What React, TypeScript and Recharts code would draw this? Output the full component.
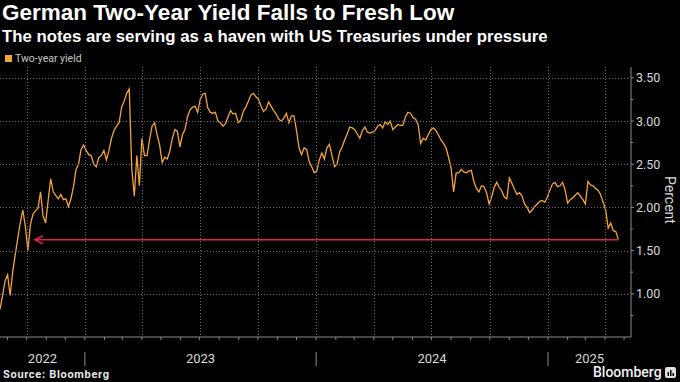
import { LineChart, Line, XAxis, YAxis, ReferenceLine } from 'recharts';

const DAY = 86400000;
const START_DATE = Date.UTC(2022, 7, 20);
const STEP_DAYS = 4;
const DOMAIN_START = Date.UTC(2022, 7, 20);
const DOMAIN_END = Date.UTC(2025, 4, 12);

// German two-year yield, one reading every 4 days from 20 Aug 2022
const yields = [
  0.82, 0.98, 1.15, 1.22, 0.98, 1.25, 1.45, 1.64, 1.82, 1.97,
  1.78, 1.5, 1.8, 1.92, 1.96, 1.99, 2.18, 1.9, 1.82, 2.08,
  2.33, 2.18, 2.14, 2.1, 2.15, 2.09, 2.1, 2.01, 2.1, 2.24,
  2.44, 2.5, 2.67, 2.72, 2.66, 2.61, 2.6, 2.5, 2.47, 2.58,
  2.6, 2.66, 2.55, 2.66, 2.8, 2.89, 2.94, 2.98, 3.16, 3.23,
  3.32, 3.37, 2.45, 2.13, 2.6, 2.25, 2.8, 2.6, 2.6, 2.78,
  2.94, 2.98, 2.84, 2.72, 2.52, 2.58, 2.56, 2.65, 2.8, 2.9,
  2.88, 2.7, 2.84, 2.9, 3.05, 3.13, 3.16, 3.17, 3.1, 3.25,
  3.31, 3.32, 3.15, 3.1, 3.09, 3.1, 3.0, 2.98, 2.94, 2.97,
  3.05, 3.12, 3.08, 3.09, 2.98, 3.01, 3.11, 3.16, 3.23, 3.3,
  3.32, 3.28, 3.25, 3.17, 3.11, 3.14, 3.22, 3.17, 3.12, 3.08,
  3.02, 3.0, 3.03, 3.09, 2.98, 3.06, 3.06, 2.89, 2.69, 2.61,
  2.69, 2.67, 2.53, 2.47, 2.4, 2.42, 2.55, 2.63, 2.56, 2.69,
  2.73, 2.6, 2.47, 2.5, 2.64, 2.7, 2.78, 2.85, 2.93, 2.92,
  2.9, 2.85, 2.8, 2.89, 2.93, 2.87, 2.86, 2.87, 2.89, 2.94,
  2.96, 2.92, 2.99, 2.96, 3.0, 2.9, 2.93, 2.96, 2.95, 2.95,
  3.05, 3.1, 3.09, 3.04, 3.02, 2.96, 2.74, 2.8, 2.78, 2.84,
  2.9, 2.92, 2.89, 2.84, 2.78, 2.74, 2.69, 2.58, 2.46, 2.18,
  2.4, 2.4, 2.44, 2.41, 2.4, 2.42, 2.43, 2.3, 2.22, 2.18,
  2.25, 2.24, 2.17, 2.04, 2.12, 2.23, 2.29, 2.23, 2.19, 2.12,
  2.1, 2.34, 2.28, 2.21, 2.15, 2.17, 2.13, 2.04, 2.0, 1.94,
  1.97, 2.01, 2.04, 2.07, 2.08, 2.06, 2.12, 2.2, 2.27, 2.29,
  2.24, 2.25, 2.29, 2.2, 2.05, 2.09, 2.11, 2.14, 2.17, 2.13,
  2.09, 2.04, 2.3, 2.26, 2.25, 2.22, 2.2, 2.15, 2.06, 1.97,
  1.76, 1.82, 1.73, 1.72, 1.63,
];

const YEARS = [2022, 2023, 2024, 2025];
const Y_TICKS = [0.75, 1, 1.25, 1.5, 1.75, 2, 2.25, 2.5, 2.75, 3, 3.25, 3.5];

// red "fresh low" marker
const LOW_LEVEL = 1.626;
const ARROW_FROM = Date.UTC(2022, 9, 14);
const ARROW_TO = Date.UTC(2025, 3, 22);

const W = 680;
const H = 382;
const TOP = 67;
const AXIS_W = 49;
const AXIS_H = 45;
const PLOT_W = W - AXIS_W;
const PLOT_H = H - TOP - AXIS_H;

const COLORS = {
  line: '#f2a33a',
  red: '#dc2346',
  grid: '#6a6a6a',
  axis: '#8c8c8c',
  text: '#d9d9d9',
};

const data = yields.map((v, i) => ({ t: START_DATE + i * STEP_DAYS * DAY, v }));

const monthTicks: number[] = [];
for (let y = 2022, m = 8; Date.UTC(y, m, 1) <= DOMAIN_END; ) {
  monthTicks.push(Date.UTC(y, m, 1));
  m++;
  if (m > 11) {
    m = 0;
    y++;
  }
}

const yearMids = YEARS.map((y) => {
  const lo = Math.max(DOMAIN_START, Date.UTC(y, 0, 1));
  const hi = Math.min(DOMAIN_END, Date.UTC(y + 1, 0, 1));
  return Math.round((lo + hi) / 2);
});
const xTicks = [...monthTicks, ...yearMids].sort((a, b) => a - b);

function XTick({ x, y, payload }: any) {
  const v = payload.value;
  const idx = yearMids.indexOf(v);
  if (idx >= 0) {
    return (
      <text x={x} y={y + 26} textAnchor="middle" fill={COLORS.text} fontSize={13} fontFamily="Roboto">
        {YEARS[idx]}
      </text>
    );
  }
  const month = new Date(v).getUTCMonth();
  const gx = Math.round(x) + 0.5;
  return (
    <g>
      {month % 3 === 0 && (
        <line x1={gx} y1={y - PLOT_H} x2={gx} y2={y - 1} stroke={COLORS.grid} strokeDasharray="1 2" />
      )}
      <line x1={x} y1={y} x2={x} y2={y + 3} stroke={COLORS.axis} />
      {month === 0 && <line x1={x} y1={y + 15} x2={x} y2={y + 29} stroke={COLORS.axis} />}
    </g>
  );
}

function YTick({ x, y, payload }: any) {
  const v = payload.value;
  const major = Math.abs(v * 2 - Math.round(v * 2)) < 1e-6;
  const gy = Math.round(y) + 0.5;
  return (
    <g>
      {major && (
        <line x1={x - PLOT_W} y1={gy} x2={x - 1} y2={gy} stroke={COLORS.grid} strokeDasharray="1 2" />
      )}
      <line x1={x} y1={y} x2={x + (major ? 3 : 2)} y2={y} stroke={COLORS.axis} />
      {major && (
        <text x={x + 5} y={y} dy="0.36em" fill={COLORS.text} fontSize={12.5} fontFamily="Roboto">
          {v.toFixed(2)}
        </text>
      )}
    </g>
  );
}

function Arrow(props: any) {
  const { x1, y1, x2, y2 } = props;
  const left = Math.min(x1, x2);
  const right = Math.max(x1, x2);
  const y = (y1 + y2) / 2;
  return (
    <g>
      <line x1={left} y1={y} x2={right} y2={y} stroke={COLORS.red} strokeWidth={1.5} />
      <polyline
        points={`${left + 8},${y - 4} ${left},${y} ${left + 8},${y + 4}`}
        fill="none"
        stroke={COLORS.red}
        strokeWidth={1.5}
      />
    </g>
  );
}

export default function App() {
  return (
    <div style={{ position: 'relative', width: W, height: H, background: '#000', overflow: 'hidden' }}>
      <style>{'body{margin:0;background:#000}'}</style>
      <div
        style={{
          position: 'absolute',
          left: 2,
          top: 0,
          color: '#fff',
          fontFamily: '"Liberation Sans"',
          fontWeight: 700,
          fontSize: 22.5,
          lineHeight: '25px',
          whiteSpace: 'nowrap',
        }}
      >
        German Two-Year Yield Falls to Fresh Low
      </div>
      <div
        style={{
          position: 'absolute',
          left: 2,
          top: 27,
          color: '#fff',
          fontFamily: '"Liberation Sans"',
          fontWeight: 700,
          fontSize: 16.8,
          lineHeight: '19px',
          whiteSpace: 'nowrap',
        }}
      >
        The notes are serving as a haven with US Treasuries under pressure
      </div>
      <div style={{ position: 'absolute', left: 5, top: 52, display: 'flex', alignItems: 'center' }}>
        <span style={{ width: 7, height: 7, background: COLORS.line, display: 'inline-block' }} />
        <span style={{ marginLeft: 3, color: '#c8c8c8', fontFamily: 'Roboto', fontSize: 10.5 }}>
          Two-year yield
        </span>
      </div>

      <LineChart width={W} height={H} data={data} margin={{ top: TOP, right: 0, bottom: 0, left: 0 }}>
        <XAxis
          dataKey="t"
          type="number"
          domain={[DOMAIN_START, DOMAIN_END]}
          allowDataOverflow
          ticks={xTicks}
          interval={0}
          tick={<XTick />}
          tickLine={false}
          tickSize={0}
          tickMargin={0}
          height={AXIS_H}
          axisLine={{ stroke: COLORS.axis }}
        />
        <YAxis
          orientation="right"
          type="number"
          domain={[0.5, 3.625]}
          allowDataOverflow
          ticks={Y_TICKS}
          interval={0}
          tick={<YTick />}
          tickLine={false}
          tickSize={0}
          tickMargin={0}
          width={AXIS_W}
          axisLine={{ stroke: COLORS.axis }}
        />
        <Line
          type="linear"
          dataKey="v"
          stroke={COLORS.line}
          strokeWidth={1.3}
          dot={false}
          isAnimationActive={false}
        />
        <ReferenceLine
          segment={[
            { x: ARROW_FROM, y: LOW_LEVEL },
            { x: ARROW_TO, y: LOW_LEVEL },
          ]}
          shape={<Arrow />}
        />
      </LineChart>

      <div
        style={{
          position: 'absolute',
          left: 670,
          top: 200,
          transform: 'translate(-50%, -50%) rotate(90deg)',
          color: COLORS.text,
          fontFamily: 'Roboto',
          fontSize: 14,
          whiteSpace: 'nowrap',
        }}
      >
        Percent
      </div>
      <div
        style={{
          position: 'absolute',
          left: 3,
          top: 368,
          color: '#e6e6e6',
          fontFamily: 'Roboto',
          fontWeight: 700,
          fontSize: 11,
          letterSpacing: 0.7,
        }}
      >
        Source: Bloomberg
      </div>
      <div
        style={{
          position: 'absolute',
          left: 593,
          top: 364,
          color: '#f0f0f0',
          fontFamily: 'Roboto',
          fontWeight: 500,
          fontSize: 14,
        }}
      >
        Bloomberg
      </div>
      <svg style={{ position: 'absolute', left: 665, top: 367 }} width={12} height={12}>
        <rect x={0} y={0} width={11} height={11} rx={2} fill="#e0e0e0" />
        <rect x={2.5} y={5} width={1.5} height={4} fill="#000" />
        <rect x={5} y={3} width={1.5} height={6} fill="#000" />
        <rect x={7.5} y={6} width={1.5} height={3} fill="#000" />
      </svg>
    </div>
  );
}
